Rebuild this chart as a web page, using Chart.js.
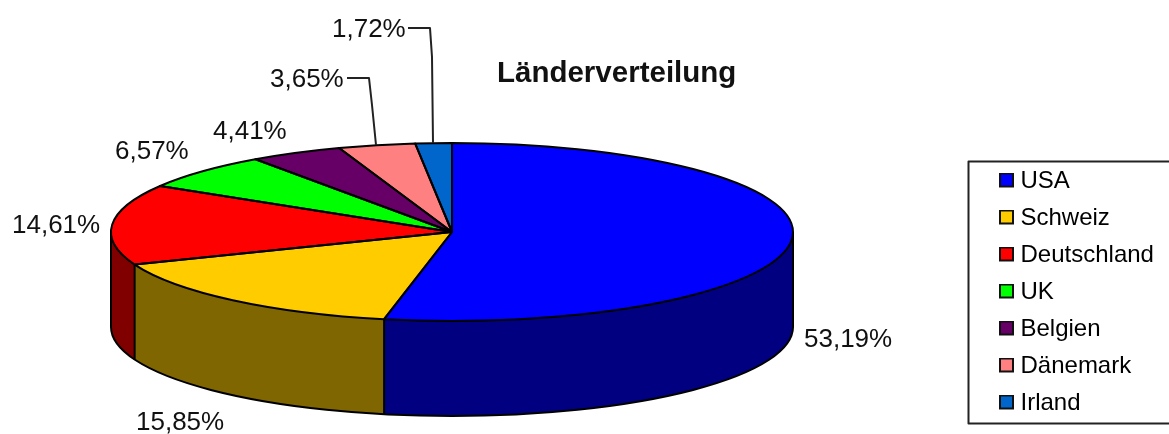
<!DOCTYPE html>
<html>
<head>
<meta charset="utf-8">
<script src="https://cdn.jsdelivr.net/npm/chart.js@4"></script>
<style>
  html, body { margin: 0; background: #fff; }
  canvas { display: block; filter: blur(0.5px); }
</style>
</head>
<body>
<canvas id="pie" width="1169" height="434"></canvas>
<script>
const countries = ["USA", "Schweiz", "Deutschland", "UK", "Belgien", "Dänemark", "Irland"];
const shares = [53.19, 15.85, 14.61, 6.57, 4.41, 3.65, 1.72];
const topColors = ["#0000ff", "#ffcc00", "#ff0000", "#00ff00", "#660066", "#ff8080", "#0066cc"];
const sideColors = ["#000080", "#806600", "#800000", "#008000", "#330033", "#804040", "#003366"];
const chartTitle = "Länderverteilung";

// where the 3d pie sits on the page
const pie = { cx: 452, cy: 232, rx: 341, ry: 89, depth: 95 };
const FONT = "'Liberation Sans', Arial, sans-serif";
// left edge and middle of each percent label
const labelX = [804, 136, 12, 115, 213, 270, 332];
const labelY = [339.5, 422.5, 225.5, 151.5, 131.5, 79.5, 29.5];
const leaderLines = [
  [[347, 78], [369, 78], [372, 105], [376, 145]],
  [[408, 28], [430, 28], [432, 57], [433, 143]],
];

// legend square, sits 1px above the text middle
function marker(color) {
  const c = document.createElement("canvas");
  c.width = 15;
  c.height = 17;
  const g = c.getContext("2d");
  g.fillStyle = "#111";
  g.fillRect(0, 0, 15, 15);
  g.fillStyle = color;
  g.fillRect(2, 2, 11, 11);
  return c;
}

function pieSides(ctx, arcs) {
  const { cx, cy, rx, ry, depth } = pie;
  arcs.forEach((arc, i) => {
    const a = Math.max(arc.startAngle, 0);
    const b = Math.min(arc.endAngle, Math.PI);
    if (b <= a) return;
    ctx.beginPath();
    ctx.ellipse(cx, cy, rx, ry, 0, a, b);
    ctx.ellipse(cx, cy + depth, rx, ry, 0, b, a, true);
    ctx.closePath();
    ctx.fillStyle = sideColors[i];
    ctx.fill();
  });
}

function pieOutlines(ctx, arcs) {
  const { cx, cy, rx, ry, depth } = pie;
  ctx.strokeStyle = "#000";
  ctx.lineWidth = 2;
  ctx.lineJoin = "round";
  // rim of the bottom and both sides
  ctx.beginPath();
  ctx.ellipse(cx, cy + depth, rx, ry, 0, 0, Math.PI);
  ctx.moveTo(cx + rx, cy);
  ctx.lineTo(cx + rx, cy + depth);
  ctx.moveTo(cx - rx, cy);
  ctx.lineTo(cx - rx, cy + depth);
  ctx.stroke();
  arcs.forEach((arc) => {
    // top face wedge
    ctx.beginPath();
    ctx.moveTo(cx, cy);
    ctx.ellipse(cx, cy, rx, ry, 0, arc.startAngle, arc.endAngle);
    ctx.closePath();
    ctx.stroke();
    // seam on the front side
    const a = arc.endAngle;
    if (a > 0 && a < Math.PI) {
      const x = cx + rx * Math.cos(a), y = cy + ry * Math.sin(a);
      ctx.beginPath();
      ctx.moveTo(x, y);
      ctx.lineTo(x, y + depth);
      ctx.stroke();
    }
  });
}

const pie3d = {
  id: "pie3d",
  afterLayout(chart) {
    // title and legend go where the reference has them
    const t = chart.titleBlock;
    t.left = 497;
    t.right = 800;
    t.top = 74 - 29.5 * 1.2 / 2;
    const l = chart.legend;
    l.left = 991.5;
    l.right = 1169;
    l.top = 156;
    l.bottom = 434;
  },
  beforeDatasetsDraw(chart) {
    const ctx = chart.ctx;
    const arcs = chart.getDatasetMeta(0).data;
    const r = arcs[0].outerRadius;
    pieSides(ctx, arcs);
    arcs.forEach((arc) => {
      ctx.save();
      ctx.translate(pie.cx, pie.cy);
      ctx.scale(pie.rx / r, pie.ry / r);
      ctx.translate(-arc.x, -arc.y);
      arc.draw(ctx);
      ctx.restore();
    });
    pieOutlines(ctx, arcs);
    return false;
  },
  afterDraw(chart) {
    const ctx = chart.ctx;
    ctx.save();
    // percent labels
    ctx.fillStyle = "#111";
    ctx.font = "26px " + FONT;
    ctx.textBaseline = "middle";
    shares.forEach((v, i) => {
      ctx.fillText(v.toFixed(2).replace(".", ",") + "%", labelX[i], labelY[i]);
    });
    // leader lines
    ctx.strokeStyle = "#222";
    ctx.lineWidth = 2;
    leaderLines.forEach((line) => {
      ctx.beginPath();
      line.forEach((p, i) => (i ? ctx.lineTo(p[0], p[1]) : ctx.moveTo(p[0], p[1])));
      ctx.stroke();
    });
    // legend frame, its right side runs off the page
    ctx.strokeStyle = "#222";
    ctx.lineWidth = 2;
    ctx.strokeRect(968.5, 161.5, 300, 262);
    ctx.restore();
  },
};

new Chart(document.getElementById("pie"), {
  type: "pie",
  data: {
    labels: countries,
    datasets: [{ data: shares, backgroundColor: topColors, borderWidth: 0 }],
  },
  options: {
    responsive: false,
    animation: false,
    plugins: {
      title: {
        display: true,
        text: chartTitle,
        align: "start",
        color: "#111",
        padding: 0,
        font: { family: FONT, size: 29.5, weight: "bold" },
      },
      legend: {
        position: "right",
        align: "start",
        labels: {
          usePointStyle: true,
          pointStyleWidth: 4,
          boxHeight: 14,
          padding: 13,
          color: "#111",
          font: { family: FONT, size: 24 },
          generateLabels: () =>
            countries.map((text, i) => ({
              text,
              index: i,
              hidden: false,
              fillStyle: topColors[i],
              lineWidth: 0,
              pointStyle: marker(topColors[i]),
            })),
        },
      },
      tooltip: { enabled: false },
    },
  },
  plugins: [pie3d],
});
</script>
</body>
</html>
